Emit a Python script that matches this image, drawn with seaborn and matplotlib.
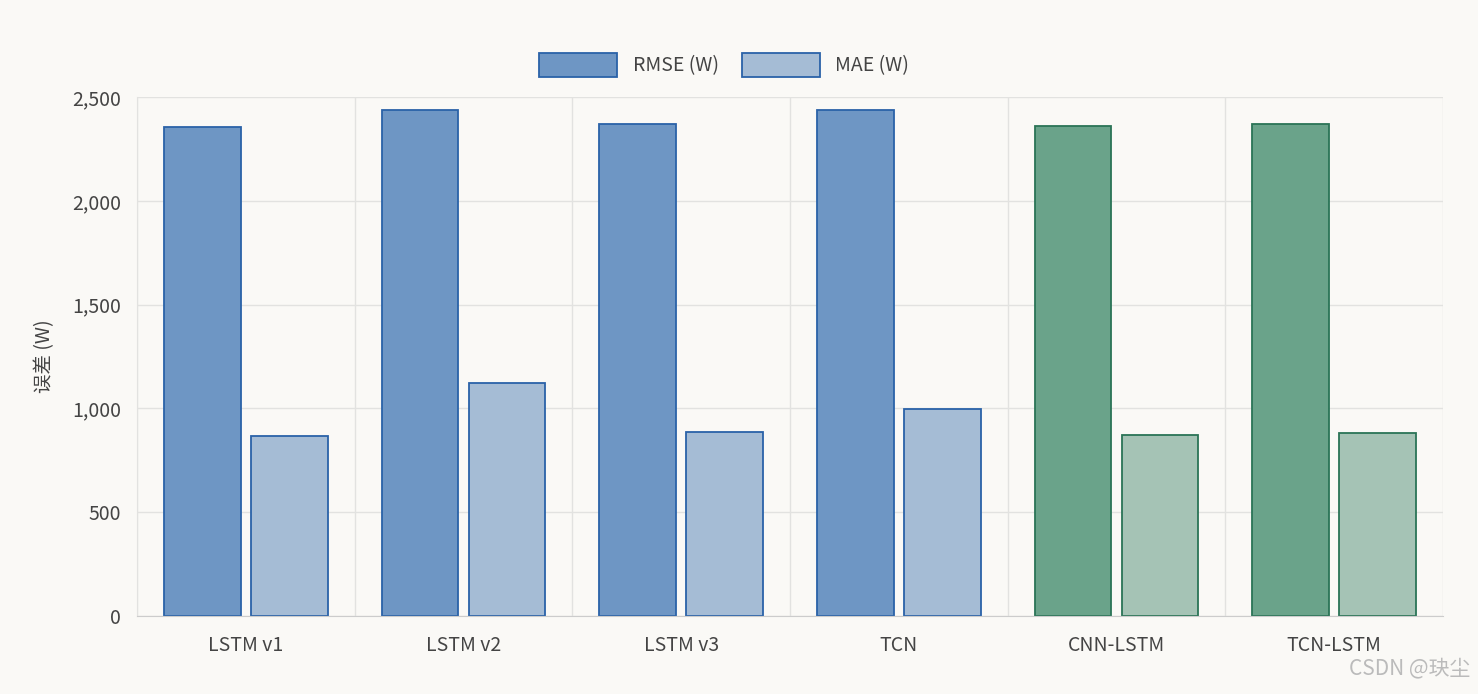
import numpy as np
import pandas as pd
import matplotlib.pyplot as plt
import seaborn as sns

# 数据
models = ['LSTM v1', 'LSTM v2', 'LSTM v3', 'TCN', 'CNN-LSTM', 'TCN-LSTM']
rmse = [2355, 2437, 2370, 2437, 2360, 2370]
mae = [867, 1122, 886, 997, 872, 881]
metrics = ['RMSE (W)', 'MAE (W)']

df = pd.DataFrame({
    'model': models * 2,
    'metric': [metrics[0]] * 6 + [metrics[1]] * 6,
    'value': rmse + mae,
})

sns.set_style('white')
plt.rcParams['font.family'] = ['Noto Sans CJK SC', 'DejaVu Sans']
bg = '#faf9f6'

fig = plt.figure(figsize=(14.78, 6.94), dpi=100, facecolor=bg)
ax = fig.add_axes([137 / 1478, 1 - 616 / 694, (1443 - 137) / 1478, (616 - 97) / 694])
ax.set_facecolor(bg)

sns.barplot(data=df, x='model', y='value', hue='metric', ax=ax,
            width=0.8, gap=0.12, legend=False)

blue_edge, green_edge = '#2a62a8', '#2a7456'
fills = {
    (0, 'b'): '#6e96c4', (1, 'b'): '#a5bcd5',
    (0, 'g'): '#6aa38a', (1, 'g'): '#a5c3b5',
}
bars = ax.patches[:12]
for i, p in enumerate(bars):
    h, m = divmod(i, 6)
    grp = 'g' if m >= 4 else 'b'
    p.set_facecolor(fills[(h, grp)])
    p.set_edgecolor(green_edge if grp == 'g' else blue_edge)
    p.set_linewidth(1.3)

ax.set_ylim(0, 2500)
ax.set_xlim(-0.5, 5.5)
ax.set_yticks(range(0, 2501, 500))
ax.set_yticklabels([f'{v:,}' for v in range(0, 2501, 500)])
ax.set_xticks(np.arange(-0.5, 6, 1), minor=True)
ax.grid(True, axis='y', color='#e2e2e0', lw=1)
ax.grid(True, axis='x', which='minor', color='#e2e2e0', lw=1)
ax.set_axisbelow(True)
ax.tick_params(axis='x', which='major', length=0, pad=14, labelsize=14, colors='#444444')
ax.tick_params(axis='x', which='minor', length=15, color='#e2e2e0')
ax.tick_params(axis='y', length=8, color='#e2e2e0', labelsize=14, colors='#444444')
for s in ['top', 'right']:
    ax.spines[s].set_visible(False)
ax.spines['left'].set_color('#e2e2e0')
ax.spines['bottom'].set_color('#cccccc')
ax.set_xlabel('')
ax.set_ylabel('误差 (W)', fontsize=14, color='#444444', labelpad=12)

from matplotlib.patches import Patch
handles = [Patch(facecolor='#6e96c4', edgecolor=blue_edge, lw=1.3),
           Patch(facecolor='#a5bcd5', edgecolor=blue_edge, lw=1.3)]
fig.legend(handles, metrics, loc='center', bbox_to_anchor=(0.49, 1 - 65 / 694),
           ncol=2, frameon=False, fontsize=14, handlelength=4, handleheight=1.5,
           columnspacing=1.2, labelcolor='#444444')

fig.text(1470 / 1478, 1 - 668 / 694, 'CSDN @玦尘', ha='right', va='center',
         fontsize=15, color='#bbbbbb')

fig.savefig('out.png', dpi=100, facecolor=bg)
